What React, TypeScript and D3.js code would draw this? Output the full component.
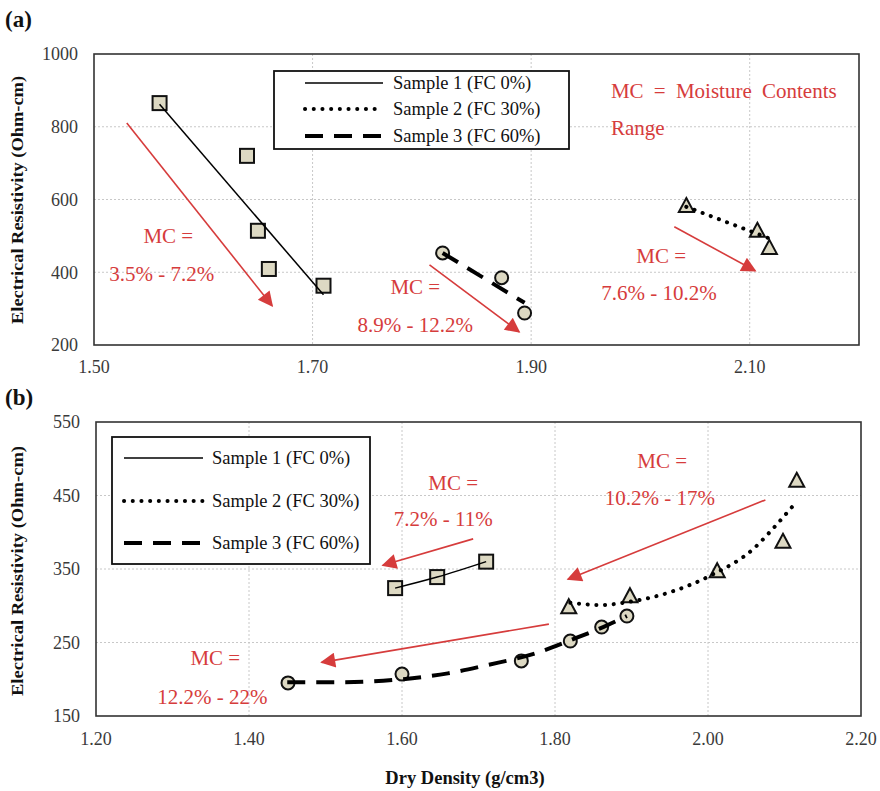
import React from "react";
import * as d3 from "d3";

const W = 880;
const H = 791;
const FONT = '"Liberation Serif", "Times New Roman", Times, "DejaVu Serif", serif';
const RED = "#d63c3c";
const FILL = "#ddd9c3";
const GRID = "#c8c8c8";

// ---- panel (a) data ----
const aXTicks = [1.5, 1.7, 1.9, 2.1];
const aYTicks = [200, 400, 600, 800, 1000];
const aS1X = [1.56, 1.64, 1.65, 1.66, 1.71];
const aS1Y = [865, 720, 514, 409, 363];
const aS2X = [2.042, 2.107, 2.118];
const aS2Y = [582, 514, 467];
const aS3X = [1.819, 1.873, 1.894];
const aS3Y = [453, 385, 288];
// trend lines
const aT1X = [1.56, 1.71];
const aT1Y = [862, 338];
const aT2X = [2.042, 2.118];
const aT2Y = [580, 493];
const aT3X = [1.819, 1.894];
const aT3Y = [453, 316];
// arrows [x1, y1, x2, y2] in data units
const aArrows = [
  [1.53, 810, 1.663, 308],
  [1.807, 420, 1.889, 236],
  [2.031, 525, 2.105, 404],
];
const aNotes = [
  { t: "MC =", x: 1.568, y: 500 },
  { t: "3.5% - 7.2%", x: 1.562, y: 396 },
  { t: "MC =", x: 1.794, y: 360 },
  { t: "8.9% - 12.2%", x: 1.794, y: 255 },
  { t: "MC =", x: 2.019, y: 445 },
  { t: "7.6% - 10.2%", x: 2.017, y: 343 },
];

// ---- panel (b) data ----
const bXTicks = [1.2, 1.4, 1.6, 1.8, 2.0, 2.2];
const bYTicks = [150, 250, 350, 450, 550];
const bS1X = [1.591, 1.646, 1.71];
const bS1Y = [324, 339, 360];
const bS2X = [1.818, 1.898, 2.012, 2.098, 2.116];
const bS2Y = [298, 313, 347, 387, 470];
const bS3X = [1.451, 1.6, 1.756, 1.82, 1.861, 1.894];
const bS3Y = [195, 207, 225, 252, 271, 286];
const bT2X = [1.82, 1.86, 1.895, 1.955, 2.005, 2.06, 2.085, 2.112];
const bT2Y = [304, 301, 305, 320, 342, 378, 405, 437];
const bT3X = [1.45, 1.52, 1.6, 1.66, 1.71, 1.78, 1.82, 1.863, 1.894];
const bT3Y = [196, 196, 200, 208, 219, 237, 253, 271, 286];
const bArrows = [
  [1.693, 391, 1.575, 355],
  [1.792, 275, 1.495, 223],
  [2.075, 444, 1.817, 336],
];
const bNotes = [
  { t: "MC =", x: 1.667, y: 468 },
  { t: "7.2% - 11%", x: 1.654, y: 418 },
  { t: "MC =", x: 1.94, y: 497 },
  { t: "10.2% - 17%", x: 1.937, y: 447 },
  { t: "MC =", x: 1.356, y: 229 },
  { t: "12.2% - 22%", x: 1.352, y: 177 },
];

const legendLabels = ["Sample 1 (FC 0%)", "Sample 2 (FC 30%)", "Sample 3 (FC 60%)"];

const STYLES = [
  { width: 1.5, dash: "none", cap: "butt" },
  { width: 4, dash: "0.1,8.6", cap: "round" },
  { width: 4, dash: "18,11", cap: "butt" },
];

const zip = (xs: number[], ys: number[]) => xs.map((v, i) => [v, ys[i]] as [number, number]);

function Marker({ kind, cx, cy }: { kind: string; cx: number; cy: number }) {
  if (kind === "square")
    return <rect x={cx - 7} y={cy - 7} width={14} height={14} fill={FILL} stroke="#111" strokeWidth={2} />;
  if (kind === "circle") return <circle cx={cx} cy={cy} r={6.5} fill={FILL} stroke="#111" strokeWidth={2} />;
  return (
    <path
      d={`M${cx},${cy - 8} L${cx + 7.5},${cy + 6} L${cx - 7.5},${cy + 6}Z`}
      fill={FILL}
      stroke="#111"
      strokeWidth={2}
      strokeLinejoin="miter"
    />
  );
}

function Panel(props: any) {
  const { x, y, xTicks, yTicks, xFmt, series, trends, arrows, notes, legend, xLabelY, id } = props;
  const [x0, x1] = x.range();
  const [y0, y1] = y.range();
  const line = d3
    .line<[number, number]>()
    .x((d) => x(d[0]))
    .y((d) => y(d[1]))
    .curve(d3.curveMonotoneX);
  return (
    <g>
      {/* grid */}
      {xTicks
        .filter((t: number) => x(t) > x0 + 2 && x(t) < x1 - 2)
        .map((t: number) => (
          <line key={"gx" + t} x1={x(t)} x2={x(t)} y1={y1} y2={y0} stroke={GRID} strokeWidth={1} strokeDasharray="2,2" />
        ))}
      {yTicks
        .filter((t: number) => y(t) < y0 - 2 && y(t) > y1 + 2)
        .map((t: number) => (
          <line key={"gy" + t} x1={x0} x2={x1} y1={y(t)} y2={y(t)} stroke={GRID} strokeWidth={1} strokeDasharray="2,2" />
        ))}
      <rect x={x0} y={y1} width={x1 - x0} height={y0 - y1} fill="none" stroke="#333" strokeWidth={1.6} />
      {/* tick labels */}
      {yTicks.map((t: number) => (
        <text key={"ty" + t} x={x0 - 16} y={y(t)} dy="0.35em" textAnchor="end" fontSize={18} fill="#3a3a3a">
          {t}
        </text>
      ))}
      {xTicks.map((t: number) => (
        <text key={"tx" + t} x={x(t)} y={xLabelY} textAnchor="middle" fontSize={18} fill="#3a3a3a">
          {xFmt(t)}
        </text>
      ))}
      {/* markers */}
      {series.map((s: any, si: number) =>
        s.pts.map((p: [number, number], i: number) => (
          <Marker key={id + si + "-" + i} kind={s.kind} cx={x(p[0])} cy={y(p[1])} />
        ))
      )}
      {/* trend lines */}
      {trends.map((tr: any, i: number) => {
        const st = STYLES[tr.style];
        return (
          <path
            key={"tr" + i}
            d={line(tr.pts) || ""}
            fill="none"
            stroke="#000"
            strokeWidth={st.width}
            strokeDasharray={st.dash}
            strokeLinecap={st.cap}
          />
        );
      })}
      {/* arrows */}
      {arrows.map((a: number[], i: number) => (
        <line
          key={"ar" + i}
          x1={x(a[0])}
          y1={y(a[1])}
          x2={x(a[2])}
          y2={y(a[3])}
          stroke={RED}
          strokeWidth={1.6}
          markerEnd="url(#arrowhead)"
        />
      ))}
      {notes.map((n: any, i: number) => (
        <text key={"n" + i} x={x(n.x)} y={y(n.y)} dy="0.35em" textAnchor="middle" fontSize={21} fill={RED}>
          {n.t}
        </text>
      ))}
      {/* legend */}
      <rect x={legend.x} y={legend.y} width={legend.w} height={legend.h} fill="#fff" stroke="#111" strokeWidth={1.8} />
      {legendLabels.map((lab, i) => {
        const st = STYLES[i];
        const ly = legend.rows[i];
        return (
          <g key={"lg" + i}>
            <line
              x1={legend.lx1}
              x2={legend.lx2}
              y1={ly}
              y2={ly}
              stroke="#000"
              strokeWidth={st.width}
              strokeDasharray={st.dash}
              strokeLinecap={st.cap}
            />
            <text x={legend.tx} y={ly} dy="0.35em" fontSize={18.5} fill="#111">
              {lab}
            </text>
          </g>
        );
      })}
    </g>
  );
}

export default function App() {
  const xa = d3.scaleLinear().domain([1.5, 2.2]).range([94, 859]);
  const ya = d3.scaleLinear().domain([200, 1000]).range([345, 54]);
  const xb = d3.scaleLinear().domain([1.2, 2.2]).range([96, 861]);
  const yb = d3.scaleLinear().domain([150, 550]).range([716, 422]);
  const fmt = d3.format(".2f");

  return (
    <svg
      width={W}
      height={H}
      style={{ display: "block", position: "absolute", left: 0, top: 0, background: "#fff", fontFamily: FONT }}
    >
      <defs>
        <marker id="arrowhead" viewBox="0 0 10 10" refX={9} refY={5} markerWidth={18} markerHeight={15} markerUnits="userSpaceOnUse" orient="auto">
          <path d="M0,0 L10,5 L0,10 Z" fill={RED} />
        </marker>
      </defs>
      <rect width={W} height={H} fill="#fff" />

      <text x={5} y={27} fontSize={23} fontWeight="bold" fill="#111">(a)</text>
      <text x={5} y={405} fontSize={23} fontWeight="bold" fill="#111">(b)</text>

      <Panel
        id="a"
        x={xa}
        y={ya}
        xTicks={aXTicks}
        yTicks={aYTicks}
        xFmt={fmt}
        xLabelY={373}
        series={[
          { kind: "square", pts: zip(aS1X, aS1Y) },
          { kind: "triangle", pts: zip(aS2X, aS2Y) },
          { kind: "circle", pts: zip(aS3X, aS3Y) },
        ]}
        trends={[
          { style: 0, pts: zip(aT1X, aT1Y) },
          { style: 1, pts: zip(aT2X, aT2Y) },
          { style: 2, pts: zip(aT3X, aT3Y) },
        ]}
        arrows={aArrows}
        notes={aNotes}
        legend={{ x: 274, y: 71, w: 295, h: 78, lx1: 305, lx2: 383, tx: 393, rows: [83, 109, 136] }}
      />
      <text x={xa(1.973)} y={ya(898)} dy="0.35em" fontSize={21} fill={RED} wordSpacing={5}>
        MC = Moisture Contents
      </text>
      <text x={xa(1.973)} y={ya(797)} dy="0.35em" fontSize={21} fill={RED}>
        Range
      </text>

      <Panel
        id="b"
        x={xb}
        y={yb}
        xTicks={bXTicks}
        yTicks={bYTicks}
        xFmt={fmt}
        xLabelY={745}
        series={[
          { kind: "square", pts: zip(bS1X, bS1Y) },
          { kind: "triangle", pts: zip(bS2X, bS2Y) },
          { kind: "circle", pts: zip(bS3X, bS3Y) },
        ]}
        trends={[
          { style: 0, pts: zip(bS1X, bS1Y) },
          { style: 1, pts: zip(bT2X, bT2Y) },
          { style: 2, pts: zip(bT3X, bT3Y) },
        ]}
        arrows={bArrows}
        notes={bNotes}
        legend={{ x: 112, y: 437, w: 258, h: 127, lx1: 124, lx2: 203, tx: 212, rows: [458, 501, 543] }}
      />

      <text
        transform="translate(23,200) rotate(-90)"
        textAnchor="middle"
        fontSize={16}
        fontWeight="bold"
        fill="#111"
        textLength={248}
        lengthAdjust="spacingAndGlyphs"
      >
        Electrical Resistivity (Ohm-cm)
      </text>
      <text
        transform="translate(23,571) rotate(-90)"
        textAnchor="middle"
        fontSize={16}
        fontWeight="bold"
        fill="#111"
        textLength={250}
        lengthAdjust="spacingAndGlyphs"
      >
        Electrical Resistivity (Ohm-cm)
      </text>
      <text x={465} y={784} textAnchor="middle" fontSize={18.5} fontWeight="bold" fill="#111">
        Dry Density (g/cm3)
      </text>
    </svg>
  );
}
